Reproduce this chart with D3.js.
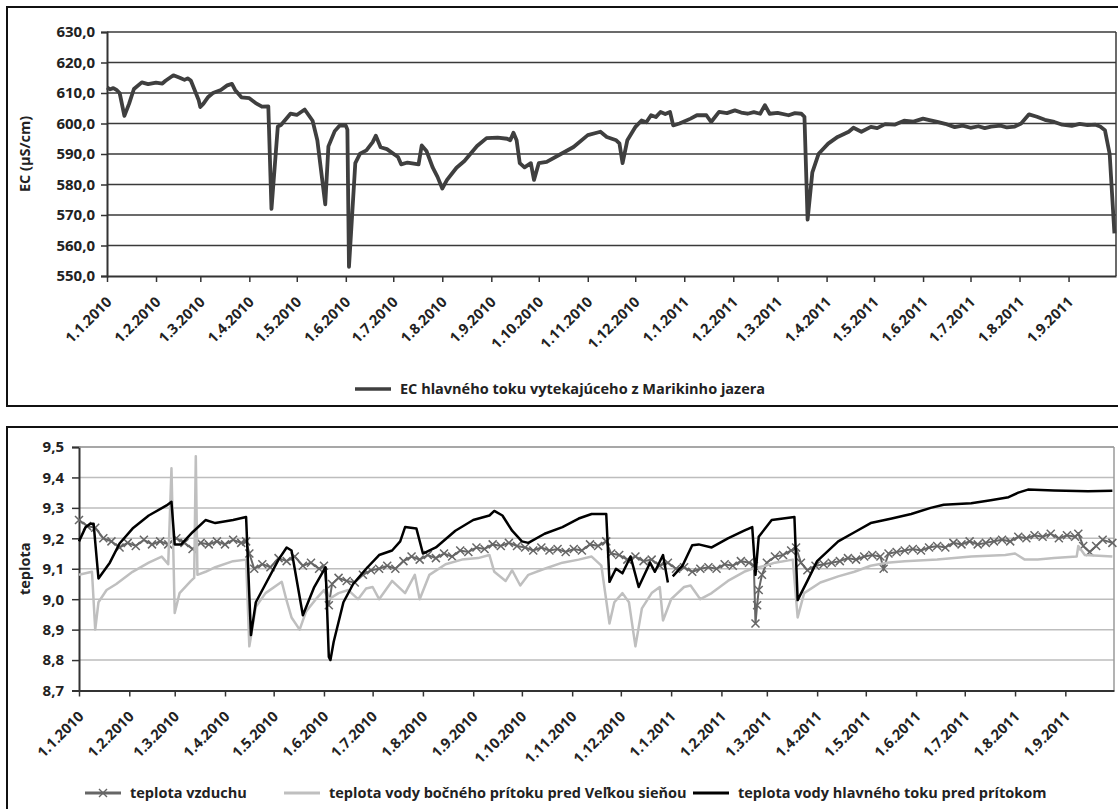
<!DOCTYPE html>
<html>
<head>
<meta charset="utf-8">
<script src="https://cdn.jsdelivr.net/npm/d3@7"></script>
<style>
  body { margin: 0; background: #fff; }
  svg { display: block; font-family: "Open Sans", Lato, sans-serif; font-weight: bold; }
</style>
</head>
<body>
<svg id="chart" width="1118" height="809"></svg>
<script>
// ---- data -------------------------------------------------------------
const ecTicks = [550, 560, 570, 580, 590, 600, 610, 620, 630];
const tempTicks = [8.7, 8.8, 8.9, 9.0, 9.1, 9.2, 9.3, 9.4, 9.5];

const ecLegend = "EC hlavného toku vytekajúceho z Marikinho jazera";
const tempLegend = [
  "teplota vzduchu",
  "teplota vody bočného prítoku pred Veľkou sieňou",
  "teplota vody hlavného toku pred prítokom"
];

// EC of the main stream (µS/cm)
const ecSeries = [
  ["2010-01-01", 611.8], ["2010-01-03", 611.2], ["2010-01-05", 611.6], ["2010-01-07", 611],
  ["2010-01-09", 610], ["2010-01-12", 602.5], ["2010-01-15", 606.5], ["2010-01-18", 611.3],
  ["2010-01-23", 613.5], ["2010-01-27", 612.9], ["2010-02-01", 613.4], ["2010-02-05", 613.1],
  ["2010-02-07", 614], ["2010-02-12", 615.8], ["2010-02-16", 615], ["2010-02-19", 614.3],
  ["2010-02-21", 614.8], ["2010-02-23", 614.1], ["2010-02-28", 607.6], ["2010-03-01", 605.4],
  ["2010-03-03", 606.5], ["2010-03-06", 608.7], ["2010-03-09", 610], ["2010-03-14", 611],
  ["2010-03-18", 612.5], ["2010-03-21", 613], ["2010-03-23", 611], ["2010-03-27", 608.6],
  ["2010-04-01", 608.3], ["2010-04-05", 606.7], ["2010-04-09", 605.5], ["2010-04-13", 605.6],
  ["2010-04-15", 572], ["2010-04-19", 599], ["2010-04-21", 599.5], ["2010-04-27", 603.2],
  ["2010-05-01", 602.8], ["2010-05-06", 604.6], ["2010-05-11", 600.9], ["2010-05-14", 594.5],
  ["2010-05-19", 573.5], ["2010-05-21", 592.5], ["2010-05-25", 597.5], ["2010-05-28", 599.3],
  ["2010-06-01", 599.3], ["2010-06-02", 598], ["2010-06-03", 553], ["2010-06-07", 587],
  ["2010-06-10", 590.1], ["2010-06-14", 591.2], ["2010-06-18", 593.9], ["2010-06-20", 596],
  ["2010-06-23", 592.2], ["2010-06-27", 591.6], ["2010-07-04", 589], ["2010-07-06", 586.6],
  ["2010-07-10", 587.2], ["2010-07-17", 586.6], ["2010-07-19", 592.8], ["2010-07-22", 591],
  ["2010-07-26", 585.5], ["2010-07-29", 582.5], ["2010-08-01", 578.7], ["2010-08-04", 581.5],
  ["2010-08-10", 585.5], ["2010-08-15", 587.7], ["2010-08-23", 592.6], ["2010-08-29", 595.2],
  ["2010-09-05", 595.4], ["2010-09-11", 595], ["2010-09-13", 594.5], ["2010-09-15", 597],
  ["2010-09-17", 594.5], ["2010-09-19", 587], ["2010-09-22", 585.6], ["2010-09-26", 587],
  ["2010-09-28", 581.5], ["2010-10-01", 587], ["2010-10-06", 587.4], ["2010-10-15", 590],
  ["2010-10-23", 592.3], ["2010-11-01", 596.2], ["2010-11-09", 597.3], ["2010-11-13", 595.6],
  ["2010-11-19", 594.5], ["2010-11-21", 593.5], ["2010-11-23", 587], ["2010-11-26", 594.5],
  ["2010-12-01", 598.8], ["2010-12-05", 601], ["2010-12-08", 600.4], ["2010-12-11", 602.7],
  ["2010-12-14", 602.1], ["2010-12-17", 603.8], ["2010-12-20", 603.1], ["2010-12-23", 603.8],
  ["2010-12-25", 599.4], ["2010-12-29", 600], ["2011-01-05", 601.6], ["2011-01-09", 602.7],
  ["2011-01-15", 602.7], ["2011-01-18", 600.5], ["2011-01-23", 603.8], ["2011-01-28", 603.4],
  ["2011-02-02", 604.3], ["2011-02-06", 603.6], ["2011-02-10", 603.2], ["2011-02-14", 603.7],
  ["2011-02-18", 603.2], ["2011-02-21", 606], ["2011-02-24", 603.2], ["2011-03-01", 603.5],
  ["2011-03-08", 602.7], ["2011-03-12", 603.4], ["2011-03-16", 603.2], ["2011-03-18", 602.2],
  ["2011-03-20", 568.5], ["2011-03-23", 584], ["2011-03-27", 590.1], ["2011-04-02", 593.4],
  ["2011-04-08", 595.6], ["2011-04-15", 597.3], ["2011-04-18", 598.6], ["2011-04-23", 597.3],
  ["2011-04-29", 598.9], ["2011-05-03", 598.5], ["2011-05-08", 599.8], ["2011-05-14", 599.6],
  ["2011-05-20", 600.9], ["2011-05-26", 600.6], ["2011-06-01", 601.6], ["2011-06-05", 601.1],
  ["2011-06-10", 600.5], ["2011-06-15", 599.9], ["2011-06-21", 598.8], ["2011-06-26", 599.3],
  ["2011-07-01", 598.6], ["2011-07-06", 599.1], ["2011-07-10", 598.5], ["2011-07-14", 599],
  ["2011-07-20", 599.3], ["2011-07-24", 598.7], ["2011-07-29", 599], ["2011-08-02", 600],
  ["2011-08-07", 603], ["2011-08-12", 602.2], ["2011-08-17", 601.2], ["2011-08-23", 600.5],
  ["2011-08-28", 599.6], ["2011-09-03", 599.2], ["2011-09-08", 599.9], ["2011-09-13", 599.5],
  ["2011-09-18", 599.6], ["2011-09-21", 599], ["2011-09-24", 597.8], ["2011-09-27", 590],
  ["2011-09-30", 564]
];

// air temperature
const airSeries = [
  ["2010-01-01", 9.26], ["2010-01-06", 9.24], ["2010-01-11", 9.235], ["2010-01-16", 9.2],
  ["2010-01-21", 9.19], ["2010-01-26", 9.17], ["2010-01-31", 9.185], ["2010-02-05", 9.175],
  ["2010-02-10", 9.195], ["2010-02-15", 9.18], ["2010-02-20", 9.19], ["2010-02-25", 9.18],
  ["2010-03-02", 9.2], ["2010-03-07", 9.185], ["2010-03-12", 9.165], ["2010-03-17", 9.185],
  ["2010-03-22", 9.18], ["2010-03-27", 9.19], ["2010-04-01", 9.18], ["2010-04-06", 9.195],
  ["2010-04-11", 9.185], ["2010-04-14", 9.19], ["2010-04-16", 9.15], ["2010-04-19", 9.1],
  ["2010-04-24", 9.115], ["2010-04-29", 9.105], ["2010-05-04", 9.135], ["2010-05-09", 9.125],
  ["2010-05-14", 9.14], ["2010-05-19", 9.11], ["2010-05-24", 9.12], ["2010-05-29", 9.1],
  ["2010-06-01", 9.11], ["2010-06-04", 8.98], ["2010-06-06", 9.05], ["2010-06-10", 9.07],
  ["2010-06-15", 9.06], ["2010-06-20", 9.055], ["2010-06-25", 9.08], ["2010-06-30", 9.095],
  ["2010-07-05", 9.1], ["2010-07-10", 9.11], ["2010-07-15", 9.1], ["2010-07-20", 9.125],
  ["2010-07-25", 9.14], ["2010-07-30", 9.13], ["2010-08-04", 9.145], ["2010-08-09", 9.135],
  ["2010-08-14", 9.15], ["2010-08-19", 9.14], ["2010-08-24", 9.16], ["2010-08-29", 9.155],
  ["2010-09-03", 9.17], ["2010-09-08", 9.165], ["2010-09-13", 9.18], ["2010-09-18", 9.175],
  ["2010-09-23", 9.185], ["2010-09-28", 9.175], ["2010-10-03", 9.17], ["2010-10-08", 9.16],
  ["2010-10-13", 9.17], ["2010-10-18", 9.16], ["2010-10-23", 9.165], ["2010-10-28", 9.155],
  ["2010-11-02", 9.165], ["2010-11-07", 9.16], ["2010-11-12", 9.18], ["2010-11-17", 9.175],
  ["2010-11-22", 9.19], ["2010-11-25", 9.15], ["2010-11-30", 9.145], ["2010-12-05", 9.13],
  ["2010-12-10", 9.14], ["2010-12-15", 9.125], ["2010-12-20", 9.13], ["2010-12-25", 9.11],
  ["2010-12-30", 9.12], ["2011-01-04", 9.1], ["2011-01-09", 9.105], ["2011-01-14", 9.09],
  ["2011-01-19", 9.1], ["2011-01-24", 9.105], ["2011-01-29", 9.1], ["2011-02-03", 9.115],
  ["2011-02-08", 9.11], ["2011-02-13", 9.125], ["2011-02-18", 9.12], ["2011-02-21", 9.11],
  ["2011-02-22", 8.92], ["2011-02-23", 8.98], ["2011-02-24", 9.03], ["2011-02-26", 9.08],
  ["2011-03-01", 9.12], ["2011-03-06", 9.14], ["2011-03-11", 9.145], ["2011-03-16", 9.16],
  ["2011-03-19", 9.17], ["2011-03-22", 9.12], ["2011-03-26", 9.095], ["2011-03-31", 9.11],
  ["2011-04-05", 9.115], ["2011-04-10", 9.12], ["2011-04-15", 9.125], ["2011-04-20", 9.135],
  ["2011-04-25", 9.13], ["2011-04-30", 9.14], ["2011-05-05", 9.145], ["2011-05-10", 9.14],
  ["2011-05-12", 9.1], ["2011-05-15", 9.15], ["2011-05-20", 9.155], ["2011-05-25", 9.16],
  ["2011-05-30", 9.165], ["2011-06-04", 9.16], ["2011-06-09", 9.17], ["2011-06-14", 9.175],
  ["2011-06-19", 9.17], ["2011-06-24", 9.185], ["2011-06-29", 9.18], ["2011-07-04", 9.19],
  ["2011-07-09", 9.18], ["2011-07-14", 9.185], ["2011-07-19", 9.19], ["2011-07-24", 9.195],
  ["2011-07-29", 9.19], ["2011-08-03", 9.205], ["2011-08-08", 9.2], ["2011-08-13", 9.21],
  ["2011-08-18", 9.205], ["2011-08-23", 9.215], ["2011-08-28", 9.2], ["2011-09-02", 9.21],
  ["2011-09-07", 9.205], ["2011-09-09", 9.215], ["2011-09-12", 9.175], ["2011-09-16", 9.155],
  ["2011-09-20", 9.175], ["2011-09-24", 9.195], ["2011-09-30", 9.185]
];

// side tributary water temperature
const sideSeries = [
  ["2010-01-01", 9.08], ["2010-01-09", 9.09], ["2010-01-11", 8.9], ["2010-01-13", 8.99],
  ["2010-01-18", 9.03], ["2010-01-24", 9.05], ["2010-02-03", 9.09], ["2010-02-13", 9.12],
  ["2010-02-21", 9.14], ["2010-02-25", 9.115], ["2010-02-27", 9.43], ["2010-03-01", 8.955],
  ["2010-03-04", 9.02], ["2010-03-11", 9.06], ["2010-03-13", 9.07], ["2010-03-14", 9.47],
  ["2010-03-15", 9.08], ["2010-03-20", 9.09], ["2010-03-26", 9.105], ["2010-04-06", 9.125],
  ["2010-04-14", 9.13], ["2010-04-16", 8.845], ["2010-04-20", 8.975], ["2010-04-26", 9.02],
  ["2010-05-06", 9.057], ["2010-05-09", 8.995], ["2010-05-12", 8.94], ["2010-05-17", 8.9],
  ["2010-05-21", 8.96], ["2010-05-27", 9.0], ["2010-06-01", 9.03], ["2010-06-04", 9.0],
  ["2010-06-10", 9.02], ["2010-06-16", 9.03], ["2010-06-22", 9.0], ["2010-06-27", 9.035],
  ["2010-07-01", 9.04], ["2010-07-05", 9.0], ["2010-07-13", 9.06], ["2010-07-21", 9.02],
  ["2010-07-27", 9.08], ["2010-07-30", 9.0], ["2010-08-05", 9.08], ["2010-08-15", 9.115],
  ["2010-08-25", 9.13], ["2010-09-04", 9.135], ["2010-09-11", 9.145], ["2010-09-14", 9.09],
  ["2010-09-21", 9.06], ["2010-09-25", 9.095], ["2010-09-30", 9.045], ["2010-10-05", 9.08],
  ["2010-10-15", 9.1], ["2010-10-26", 9.12], ["2010-11-05", 9.13], ["2010-11-13", 9.14],
  ["2010-11-19", 9.11], ["2010-11-24", 8.92], ["2010-11-27", 8.99], ["2010-12-02", 9.02],
  ["2010-12-06", 8.99], ["2010-12-10", 8.845], ["2010-12-14", 8.97], ["2010-12-20", 9.02],
  ["2010-12-25", 9.04], ["2010-12-27", 8.93], ["2011-01-01", 9.0], ["2011-01-09", 9.04],
  ["2011-01-13", 9.045], ["2011-01-19", 9.0], ["2011-01-26", 9.02], ["2011-02-05", 9.06],
  ["2011-02-15", 9.09], ["2011-02-20", 9.1], ["2011-02-28", 9.11], ["2011-03-06", 9.12],
  ["2011-03-17", 9.13], ["2011-03-20", 8.94], ["2011-03-24", 9.02], ["2011-04-03", 9.055],
  ["2011-04-14", 9.075], ["2011-04-24", 9.09], ["2011-05-04", 9.11], ["2011-05-14", 9.12],
  ["2011-05-25", 9.125], ["2011-06-14", 9.13], ["2011-07-05", 9.14], ["2011-07-26", 9.145],
  ["2011-08-01", 9.15], ["2011-08-07", 9.13], ["2011-08-15", 9.13], ["2011-08-25", 9.135],
  ["2011-09-08", 9.14], ["2011-09-09", 9.175], ["2011-09-13", 9.145], ["2011-09-30", 9.14]
];

// main stream water temperature (null = gap in the record)
const mainSeries = [
  ["2010-01-01", 9.19], ["2010-01-05", 9.236], ["2010-01-08", 9.248], ["2010-01-10", 9.248],
  ["2010-01-13", 9.068], ["2010-01-20", 9.12], ["2010-01-26", 9.183], ["2010-02-03", 9.232],
  ["2010-02-13", 9.275], ["2010-02-24", 9.308], ["2010-02-27", 9.32], ["2010-03-01", 9.18],
  ["2010-03-05", 9.18], ["2010-03-12", 9.22], ["2010-03-20", 9.26], ["2010-03-26", 9.25],
  ["2010-04-06", 9.26], ["2010-04-14", 9.27], ["2010-04-17", 8.882], ["2010-04-20", 8.99],
  ["2010-04-26", 9.05], ["2010-05-04", 9.13], ["2010-05-09", 9.17], ["2010-05-12", 9.16],
  ["2010-05-19", 8.947], ["2010-05-26", 9.04], ["2010-06-02", 9.105], ["2010-06-04", 8.81],
  ["2010-06-05", 8.8], ["2010-06-07", 8.86], ["2010-06-13", 8.99], ["2010-06-19", 9.05],
  ["2010-06-27", 9.1], ["2010-07-05", 9.145], ["2010-07-13", 9.16], ["2010-07-18", 9.19],
  ["2010-07-21", 9.237], ["2010-07-28", 9.232], ["2010-08-01", 9.15], ["2010-08-09", 9.17],
  ["2010-08-21", 9.225], ["2010-09-01", 9.26], ["2010-09-11", 9.275], ["2010-09-14", 9.29],
  ["2010-09-19", 9.275], ["2010-09-25", 9.225], ["2010-10-01", 9.19], ["2010-10-05", 9.185],
  ["2010-10-15", 9.215], ["2010-10-26", 9.237], ["2010-11-05", 9.265], ["2010-11-13", 9.28],
  ["2010-11-22", 9.28], ["2010-11-24", 9.057], ["2010-11-28", 9.1], ["2010-12-02", 9.085],
  ["2010-12-07", 9.14], ["2010-12-12", 9.04], ["2010-12-19", 9.12], ["2010-12-22", 9.09],
  ["2010-12-27", 9.145], ["2010-12-30", 9.055], ["2010-12-31", null], ["2011-01-02", 9.075],
  ["2011-01-08", 9.11], ["2011-01-14", 9.177], ["2011-01-18", 9.18], ["2011-01-26", 9.17],
  ["2011-02-05", 9.2], ["2011-02-15", 9.225], ["2011-02-20", 9.237], ["2011-02-22", 9.08],
  ["2011-02-24", 9.205], ["2011-03-04", 9.26], ["2011-03-18", 9.27], ["2011-03-20", 8.997],
  ["2011-03-26", 9.06], ["2011-04-01", 9.125], ["2011-04-14", 9.19], ["2011-04-24", 9.22],
  ["2011-05-04", 9.25], ["2011-05-17", 9.265], ["2011-05-29", 9.28], ["2011-06-10", 9.3],
  ["2011-06-18", 9.31], ["2011-07-05", 9.315], ["2011-07-17", 9.325], ["2011-07-28", 9.335],
  ["2011-08-03", 9.35], ["2011-08-09", 9.36], ["2011-08-25", 9.357], ["2011-09-15", 9.355],
  ["2011-09-30", 9.356]
];

// ---- setup ------------------------------------------------------------
const parseDate = d3.timeParse("%Y-%m-%d");
const tickFormat = d3.timeFormat("%-d.%-m.%Y");
const commaFormat = v => v.toFixed(1).replace(".", ",");
const dateStart = parseDate("2010-01-01");
const dateEnd = parseDate("2011-10-01");
const monthTicks = d3.timeMonth.range(dateStart, parseDate("2011-09-02"));

const toPoints = arr => arr.map(([d, v]) => ({ date: parseDate(d), value: v }));

const svg = d3.select("#chart");

// outer frames of both panels
svg.append("rect")
  .attr("x", 7).attr("y", 7).attr("width", 1120).attr("height", 399)
  .attr("fill", "none").attr("stroke", "#111").attr("stroke-width", 2);
svg.append("rect")
  .attr("x", 7).attr("y", 427).attr("width", 1120).attr("height", 400)
  .attr("fill", "none").attr("stroke", "#111").attr("stroke-width", 2);

function drawFrame(cfg) {
  const x = d3.scaleTime().domain([dateStart, dateEnd]).range([cfg.left, cfg.right]);
  const y = d3.scaleLinear().domain(cfg.domain).range([cfg.bottom, cfg.top]);
  const g = svg.append("g");

  // gridlines
  g.append("g")
    .selectAll("line")
    .data(cfg.ticks.slice(1))
    .enter().append("line")
    .attr("x1", cfg.left).attr("x2", cfg.right)
    .attr("y1", d => y(d)).attr("y2", d => y(d))
    .attr("stroke", cfg.gridColor)
    .attr("stroke-width", cfg.gridWidth);

  // right border of plot area
  g.append("line")
    .attr("x1", cfg.right).attr("x2", cfg.right)
    .attr("y1", cfg.top).attr("y2", cfg.bottom)
    .attr("stroke", cfg.borderColor).attr("stroke-width", 1.5);

  // y axis
  const yAxis = g.append("g")
    .attr("transform", `translate(${cfg.left},0)`)
    .call(d3.axisLeft(y).tickValues(cfg.ticks).tickFormat(commaFormat)
      .tickSize(cfg.tickLen).tickPadding(cfg.tickPad));
  yAxis.select(".domain").attr("stroke", "#333").attr("stroke-width", 2);
  yAxis.selectAll(".tick line").attr("stroke", "#333").attr("stroke-width", 1.5);
  yAxis.selectAll(".tick text")
    .attr("font-size", 15).attr("fill", "#222")
    .attr("font-family", "'Open Sans', sans-serif").attr("font-weight", "bold");

  // x axis
  const xAxis = g.append("g")
    .attr("transform", `translate(0,${cfg.bottom})`)
    .call(d3.axisBottom(x).tickValues(monthTicks).tickFormat(tickFormat)
      .tickSize(6).tickSizeOuter(0));
  xAxis.select(".domain").attr("stroke", "#333").attr("stroke-width", 2);
  xAxis.selectAll(".tick line").attr("stroke", "#333").attr("stroke-width", 1.5);
  xAxis.selectAll(".tick text")
    .attr("font-size", 14.5).attr("fill", "#222")
    .attr("font-family", "'Open Sans', sans-serif").attr("font-weight", "bold")
    .attr("text-anchor", "end")
    .attr("y", 0).attr("dy", 0)
    .attr("transform", "translate(5,27) rotate(-45)");

  // y title
  g.append("text")
    .attr("transform", `translate(${cfg.titleX},${(cfg.top + cfg.bottom) / 2}) rotate(-90)`)
    .attr("text-anchor", "middle")
    .attr("font-size", 14.5).attr("fill", "#222")
    .text(cfg.title);

  return { x, y, g };
}

// ---- top panel: EC ----------------------------------------------------
const ecFrame = drawFrame({
  left: 107, right: 1116, top: 32, bottom: 276,
  domain: [550, 630], ticks: ecTicks,
  gridColor: "#3a3a3a", gridWidth: 1.4, borderColor: "#3a3a3a",
  tickLen: 6, tickPad: 6, title: "EC (µS/cm)", titleX: 30
});

const ecLine = d3.line()
  .x(d => ecFrame.x(d.date))
  .y(d => ecFrame.y(d.value));

ecFrame.g.append("path")
  .datum(toPoints(ecSeries))
  .attr("d", ecLine)
  .attr("fill", "none")
  .attr("stroke", "#3f3f3f")
  .attr("stroke-width", 3.8)
  .attr("stroke-linejoin", "round");

// top legend
const ecLeg = svg.append("g").attr("transform", "translate(355,389)");
ecLeg.append("line").attr("x1", 0).attr("x2", 36)
  .attr("stroke", "#3f3f3f").attr("stroke-width", 3.5);
ecLeg.append("text").attr("x", 45).attr("dy", "0.35em")
  .attr("font-size", 14.5).attr("fill", "#222").text(ecLegend);

// ---- bottom panel: temperatures ---------------------------------------
const tFrame = drawFrame({
  left: 79, right: 1114, top: 447, bottom: 690.5,
  domain: [8.7, 9.5], ticks: tempTicks,
  gridColor: "#bdbdbd", gridWidth: 1.5, borderColor: "#9a9a9a",
  tickLen: 7, tickPad: 8, title: "teplota", titleX: 30
});

// top border of lower plot area
tFrame.g.append("line")
  .attr("x1", 79).attr("x2", 1114).attr("y1", 447).attr("y2", 447)
  .attr("stroke", "#9a9a9a").attr("stroke-width", 1.5);

const tLine = d3.line()
  .defined(d => d.value !== null)
  .x(d => tFrame.x(d.date))
  .y(d => tFrame.y(d.value));

const airPts = toPoints(airSeries);
const airColor = "#666666";
const sideColor = "#bfbfbf";
const mainColor = "#000000";
const crossPath = "M-4,-4L4,4M-4,4L4,-4";

tFrame.g.append("path")
  .datum(airPts)
  .attr("d", tLine)
  .attr("fill", "none").attr("stroke", airColor).attr("stroke-width", 2);

tFrame.g.append("g")
  .selectAll("path")
  .data(airPts)
  .enter().append("path")
  .attr("transform", d => `translate(${tFrame.x(d.date)},${tFrame.y(d.value)})`)
  .attr("d", crossPath)
  .attr("stroke", airColor).attr("stroke-width", 1.5).attr("fill", "none");

tFrame.g.append("path")
  .datum(toPoints(sideSeries))
  .attr("d", tLine)
  .attr("fill", "none").attr("stroke", sideColor).attr("stroke-width", 2.5)
  .attr("stroke-linejoin", "round");

tFrame.g.append("path")
  .datum(toPoints(mainSeries))
  .attr("d", tLine)
  .attr("fill", "none").attr("stroke", mainColor).attr("stroke-width", 2.5)
  .attr("stroke-linejoin", "round");

// bottom legend
const legItems = [
  { label: tempLegend[0], color: airColor, width: 3, marker: true, x: 85 },
  { label: tempLegend[1], color: sideColor, width: 3, marker: false, x: 284 },
  { label: tempLegend[2], color: mainColor, width: 3, marker: false, x: 693 }
];
const tLeg = svg.append("g").attr("transform", "translate(0,793)")
  .selectAll("g")
  .data(legItems)
  .enter().append("g")
  .attr("transform", d => `translate(${d.x},0)`);
tLeg.append("line").attr("x1", 0).attr("x2", 36)
  .attr("stroke", d => d.color).attr("stroke-width", d => d.width);
tLeg.filter(d => d.marker).append("path")
  .attr("transform", "translate(18,0)")
  .attr("d", crossPath)
  .attr("stroke", d => d.color).attr("stroke-width", 1.4);
tLeg.append("text").attr("x", 45).attr("dy", "0.35em")
  .attr("font-size", 14.5).attr("fill", "#222")
  .text(d => d.label);
</script>
</body>
</html>
